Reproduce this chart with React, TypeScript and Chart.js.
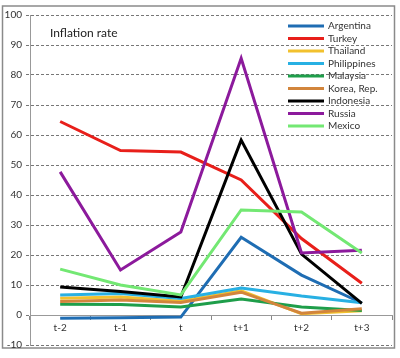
import React, { useEffect, useRef } from "react";
import { Chart, registerables } from "chart.js";

Chart.register(...registerables);

const categories = ["t-2", "t-1", "t", "t+1", "t+2", "t+3"];
const seriesNames = ["Argentina", "Turkey", "Thailand", "Philippines", "Malaysia", "Korea, Rep.", "Indonesia", "Russia", "Mexico"];
const argentina = [-1.1, -0.9, -0.7, 25.9, 13.3, 4.0];
const turkey = [64.5, 54.8, 54.3, 45.0, 25.5, 10.6];
const thailand = [5.6, 6.0, 4.6, 8.1, 0.4, 1.4];
const philippines = [6.7, 7.2, 5.5, 9.0, 6.3, 4.1];
const malaysia = [3.6, 3.5, 2.7, 5.3, 2.7, 1.5];
const korea = [4.5, 5.0, 4.2, 7.6, 0.6, 2.1];
const indonesia = [9.3, 7.8, 6.0, 58.3, 20.3, 3.9];
const russia = [47.7, 15.0, 27.7, 85.6, 20.7, 21.6];
const mexico = [15.3, 10.0, 6.7, 35.0, 34.3, 20.7];
const seriesColors = ["#1f6db3", "#e81f1a", "#f2c12e", "#28b0e3", "#1e9e4a", "#d2853c", "#000000", "#8c1a9c", "#73e873"];
const yTicks = { min: -10, max: 100, step: 10 };
const chartTitle = "Inflation rate";

const FONT = "Lato, 'Open Sans', sans-serif";

export default function App() {
  const ref = useRef<HTMLCanvasElement>(null);
  useEffect(() => {
    const values = [argentina, turkey, thailand, philippines, malaysia, korea, indonesia, russia, mexico];
    const decor = {
      id: "decor",
      beforeDraw(chart: any) {
        const ctx = chart.ctx;
        ctx.save();
        ctx.fillStyle = "#ffffff";
        ctx.fillRect(0, 0, chart.width, chart.height);
        ctx.strokeStyle = "#8a8a8a";
        ctx.lineWidth = 1.5;
        ctx.strokeRect(2.5, 6, 392, 342);
        ctx.restore();
      },
      afterDraw(chart: any) {
        const ctx = chart.ctx;
        ctx.save();
        ctx.fillStyle = "#222";
        ctx.font = `12px ${FONT}`;
        ctx.textBaseline = "middle";
        ctx.textAlign = "left";
        ctx.fillText(chartTitle, 50, 33);
        ctx.font = `10px ${FONT}`;
        chart.data.datasets.forEach((ds: any, i: number) => {
          const y = 26 + i * 12.5;
          ctx.strokeStyle = ds.borderColor;
          ctx.lineWidth = 3;
          ctx.beginPath();
          ctx.moveTo(288, y);
          ctx.lineTo(324, y);
          ctx.stroke();
          ctx.fillStyle = "#333";
          ctx.fillText(ds.label, 328, y);
        });
        ctx.restore();
      },
    };
    const chart = new Chart(ref.current!, {
      type: "line",
      data: {
        labels: categories,
        datasets: seriesNames.map((name, i) => ({
          label: name,
          data: values[i],
          borderColor: seriesColors[i],
          backgroundColor: seriesColors[i],
          borderWidth: 3,
          pointRadius: 0,
          tension: 0,
          order: seriesNames.length - i,
        })),
      },
      options: {
        animation: false,
        responsive: false,
        layout: { padding: { left: 0, top: 15, right: 8, bottom: 13 } },
        plugins: { legend: { display: false }, tooltip: { enabled: false }, title: { display: false } },
        scales: {
          x: {
            position: { y: 0 } as any,
            offset: true,
            grid: { display: true, offset: true, drawOnChartArea: false, drawTicks: true, tickLength: 4, color: "#888" },
            border: { display: true, color: "#999", width: 1 },
            ticks: { color: "#333", font: { family: FONT, size: 10 }, padding: 3, maxRotation: 0 },
          },
          y: {
            min: yTicks.min,
            max: yTicks.max,
            afterFit: (s: any) => { s.width = 30; },
            ticks: { stepSize: yTicks.step, color: "#333", font: { family: FONT, size: 10 }, padding: 4 },
            grid: { color: "#777", tickLength: 4, lineWidth: 1, tickBorderDash: [3, 2] as any },
            border: { display: true, color: "#999", dash: [3, 2] as any },
          },
        },
      },
      plugins: [decor],
    });
    return () => chart.destroy();
  }, []);
  return (
    <div style={{ position: "fixed", left: 0, top: 0, width: 400, height: 358 }}>
      <canvas ref={ref} width={400} height={358} style={{ width: 400, height: 358 }} />
    </div>
  );
}
